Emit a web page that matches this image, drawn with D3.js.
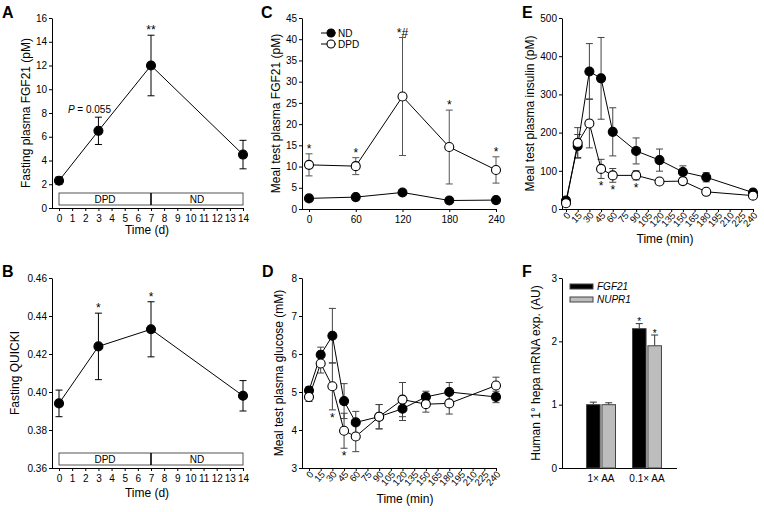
<!DOCTYPE html>
<html>
<head>
<meta charset="utf-8">
<script src="https://cdn.jsdelivr.net/npm/d3@7"></script>
<style>
body { margin: 0; background: #fff; }
svg { font-family: "Liberation Sans", Arial, sans-serif; }
.axis path, .axis line { stroke: #000; }
.axis text { font-size: 10px; fill: #000; font-family: "Liberation Sans", Arial, sans-serif; }
.ttl { font-size: 12px; fill: #000; }
.letter { font-size: 16px; font-weight: bold; fill: #000; }
.star { font-size: 12px; fill: #000; text-anchor: middle; }
</style>
</head>
<body>
<svg id="fig" width="764" height="512"></svg>
<script>
// A, B: fasting values over the diet study (days)
var studyDays = [0, 3, 7, 14];
var fgf21Fasting = [2.3, 6.5, 12.0, 4.5];
var fgf21FastingErr = [0.3, 1.15, 2.55, 1.2];
var fgf21FastingStars = ["", "", "**", ""];
var quicki = [0.394, 0.424, 0.433, 0.398];
var quickiErr = [0.007, 0.0175, 0.0145, 0.008];
var quickiStars = ["", "*", "*", ""];
var dietPhases = ["DPD", "ND"];
var phaseBounds = [0, 7, 14];

// C: meal test FGF21
var mealTimesC = [0, 60, 120, 180, 240];
var fgf21ND = [2.5, 2.8, 3.9, 2.0, 2.1];
var fgf21NDErr = [0.3, 0.3, 0.4, 0.3, 0.3];
var fgf21DPD = [10.4, 10.1, 26.5, 14.6, 9.2];
var fgf21DPDErr = [2.6, 2.0, 13.9, 8.7, 3.1];
var fgf21DPDStars = ["*", "*", "*#", "*", "*"];

// D, E: meal test glucose and insulin
var mealTimes = [0, 15, 30, 45, 60, 90, 120, 150, 180, 240];
var glucoseND = [5.04, 5.98, 6.48, 4.76, 4.2, 4.35, 4.56, 4.87, 5.0, 4.87];
var glucoseNDErr = [0.1, 0.2, 0.72, 0.46, 0.29, 0.32, 0.31, 0.15, 0.25, 0.15];
var glucoseDPD = [4.87, 5.75, 5.15, 3.98, 3.83, 4.35, 4.8, 4.68, 4.7, 5.17];
var glucoseDPDErr = [0.12, 0.25, 0.62, 0.46, 0.4, 0.32, 0.45, 0.21, 0.28, 0.22];
var glucoseStars = ["", "", "*", "*", "", "", "", "", "", ""];
var insulinND = [22, 165, 360, 342, 202, 152, 128, 97, 83, 43];
var insulinNDErr = [5, 30, 73, 107, 63, 34, 29, 16, 12, 5];
var insulinDPD = [15, 173, 224, 105, 88, 88, 72, 73, 45, 35];
var insulinDPDErr = [4, 40, 64, 25, 18, 12, 8, 6, 5, 5];
var insulinStars = ["", "", "", "*", "*", "*", "", "", "", ""];
var minuteTicks = d3.range(0, 241, 15);

// F: hepatocyte mRNA
var aaGroups = ["1\u00d7 AA", "0.1\u00d7 AA"];
var genes = ["FGF21", "NUPR1"];
var geneFGF21 = [1.0, 2.2];
var geneFGF21Err = [0.04, 0.08];
var geneNUPR1 = [1.0, 1.93];
var geneNUPR1Err = [0.03, 0.17];
var geneStars = ["", "*"];

var svg = d3.select("#fig");

// draws the axes + titles for a line panel, returns the scales
function makePanel(cfg) {
    var g = svg.append("g");
    var x = d3.scaleLinear().domain(cfg.xDomain).range([cfg.x0, cfg.x1]);
    var y = d3.scaleLinear().domain(cfg.yDomain).range([cfg.yb, cfg.yt]);

    g.append("g").attr("class", "axis")
        .attr("transform", "translate(" + cfg.ax + ",0)")
        .call(d3.axisLeft(y).tickValues(cfg.yTicks).tickSize(3).tickPadding(2).tickSizeOuter(0)
            .tickFormat(cfg.yFmt || d3.format("d")));

    var xa = g.append("g").attr("class", "axis")
        .attr("transform", "translate(0," + cfg.yb + ")")
        .call(d3.axisBottom(x).tickValues(cfg.xTicks).tickSize(3).tickPadding(4).tickSizeOuter(0).tickFormat(d3.format("d")));
    xa.select(".domain").attr("d", "M" + cfg.ax + ",0.5H" + (cfg.x1 + 0.5));

    if (cfg.rotate) {
        xa.selectAll(".tick text")
            .attr("text-anchor", "end")
            .attr("x", 0).attr("y", 0).attr("dy", "0.35em")
            .style("font-size", "9.5px")
            .attr("transform", "translate(2,4.5) rotate(-48)");
    }

    g.append("text").attr("class", "ttl")
        .attr("transform", "translate(" + cfg.ytx + "," + ((cfg.yb + cfg.yt) / 2) + ") rotate(-90)")
        .attr("text-anchor", "middle").attr("dy", "0.35em")
        .text(cfg.yTitle);
    if (cfg.xTitle) {
        g.append("text").attr("class", "ttl")
            .attr("x", cfg.xtx).attr("y", cfg.xty)
            .attr("text-anchor", "middle")
            .text(cfg.xTitle);
    }
    g.append("text").attr("class", "letter")
        .attr("x", cfg.lx).attr("y", cfg.ly).text(cfg.letter);
    return {g: g, x: x, y: y};
}

function toPoints(xs, ys, es) {
    return xs.map(function(d, i) { return {x: d, y: ys[i], e: es[i], i: i}; });
}

function errorBars(p, pts, color) {
    var eg = p.g.append("g").attr("stroke", color).attr("stroke-width", 1);
    var cap = 3.5;
    var sel = eg.selectAll(null).data(pts).enter().append("g");
    sel.append("line")
        .attr("x1", function(d) { return p.x(d.x); })
        .attr("x2", function(d) { return p.x(d.x); })
        .attr("y1", function(d) { return p.y(d.y - d.e); })
        .attr("y2", function(d) { return p.y(d.y + d.e); });
    [1, -1].forEach(function(s) {
        sel.append("line")
            .attr("x1", function(d) { return p.x(d.x) - cap; })
            .attr("x2", function(d) { return p.x(d.x) + cap; })
            .attr("y1", function(d) { return p.y(d.y + s * d.e); })
            .attr("y2", function(d) { return p.y(d.y + s * d.e); });
    });
}

function seriesLine(p, pts) {
    var line = d3.line()
        .x(function(d) { return p.x(d.x); })
        .y(function(d) { return p.y(d.y); });
    p.g.append("path").datum(pts)
        .attr("d", line)
        .attr("fill", "none")
        .attr("stroke", "#000")
        .attr("stroke-width", 1);
}

function dots(p, pts, filled, r) {
    p.g.append("g").selectAll("circle").data(pts).enter().append("circle")
        .attr("cx", function(d) { return p.x(d.x); })
        .attr("cy", function(d) { return p.y(d.y); })
        .attr("r", r)
        .attr("fill", filled ? "#000" : "#fff")
        .attr("stroke", "#000")
        .attr("stroke-width", 1.1);
}

// stars above the upper error (dir = -1) or below the lower error (dir = 1)
function stars(p, pts, labels, dir) {
    p.g.append("g").selectAll("text").data(pts.filter(function(d) { return labels[d.i]; }))
        .enter().append("text")
        .attr("class", "star")
        .attr("x", function(d) { return p.x(d.x); })
        .attr("y", function(d) {
            return dir < 0 ? p.y(d.y + d.e) - 1 : p.y(d.y - d.e) + 12;
        })
        .text(function(d) { return labels[d.i]; });
}

function dietBar(p) {
    var bg = p.g.append("g");
    var top = p.y.range()[0] - 15;
    bg.append("rect")
        .attr("x", p.x(phaseBounds[0]))
        .attr("y", top)
        .attr("width", p.x(phaseBounds[2]) - p.x(phaseBounds[0]))
        .attr("height", 12)
        .attr("fill", "#fff").attr("stroke", "#555").attr("stroke-width", 1);
    bg.append("line")
        .attr("x1", p.x(phaseBounds[1])).attr("x2", p.x(phaseBounds[1]))
        .attr("y1", top).attr("y2", top + 12)
        .attr("stroke", "#000").attr("stroke-width", 1.6);
    bg.selectAll("text").data(dietPhases).enter().append("text")
        .attr("x", function(d, i) { return p.x((phaseBounds[i] + phaseBounds[i + 1]) / 2); })
        .attr("y", top + 9.5)
        .attr("text-anchor", "middle")
        .style("font-size", "10px")
        .text(function(d) { return d; });
}

// ---------- A ----------
var pA = makePanel({
    letter: "A", lx: 2, ly: 18,
    ax: 52, x0: 59, x1: 243, yb: 208, yt: 18,
    xDomain: [0, 14], yDomain: [0, 16],
    xTicks: d3.range(0, 15), yTicks: d3.range(0, 17, 2),
    yTitle: "Fasting plasma FGF21 (pM)", ytx: 26,
    xTitle: "Time (d)", xtx: 147, xty: 234
});
dietBar(pA);
var ptsA = toPoints(studyDays, fgf21Fasting, fgf21FastingErr);
errorBars(pA, ptsA, "#000");
seriesLine(pA, ptsA);
dots(pA, ptsA, true, 4.5);
stars(pA, ptsA, fgf21FastingStars, -1);
var pAnn = pA.g.append("text")
    .attr("x", pA.x(studyDays[1]) - 9)
    .attr("y", pA.y(fgf21Fasting[1] + fgf21FastingErr[1]) - 4)
    .attr("text-anchor", "middle")
    .style("font-size", "10px");
pAnn.append("tspan").style("font-style", "italic").text("P");
pAnn.append("tspan").text(" = 0.055");

// ---------- B ----------
var pB = makePanel({
    letter: "B", lx: 2, ly: 277,
    ax: 52, x0: 59, x1: 243, yb: 468, yt: 278,
    xDomain: [0, 14], yDomain: [0.36, 0.46],
    xTicks: d3.range(0, 15), yTicks: [0.36, 0.38, 0.40, 0.42, 0.44, 0.46],
    yFmt: d3.format(".2f"),
    yTitle: "Fasting QUICKI", ytx: 15,
    xTitle: "Time (d)", xtx: 147, xty: 497
});
dietBar(pB);
var ptsB = toPoints(studyDays, quicki, quickiErr);
errorBars(pB, ptsB, "#000");
seriesLine(pB, ptsB);
dots(pB, ptsB, true, 4.5);
stars(pB, ptsB, quickiStars, -1);

// ---------- C ----------
var pC = makePanel({
    letter: "C", lx: 261, ly: 18,
    ax: 302, x0: 309, x1: 496, yb: 209, yt: 18,
    xDomain: [0, 240], yDomain: [0, 45],
    xTicks: mealTimesC, yTicks: d3.range(0, 46, 5),
    yTitle: "Meal test plasma FGF21 (pM)", ytx: 276
});
var ptsCnd = toPoints(mealTimesC, fgf21ND, fgf21NDErr);
var ptsCdpd = toPoints(mealTimesC, fgf21DPD, fgf21DPDErr);
errorBars(pC, ptsCdpd, "#555");
errorBars(pC, ptsCnd, "#555");
seriesLine(pC, ptsCnd);
seriesLine(pC, ptsCdpd);
dots(pC, ptsCnd, true, 4.5);
dots(pC, ptsCdpd, false, 4.5);
stars(pC, ptsCdpd, fgf21DPDStars, -1);

var legC = pC.g.append("g").selectAll("g").data(["ND", "DPD"]).enter().append("g")
    .attr("transform", function(d, i) { return "translate(" + (302 + 19) + "," + (33 + i * 11) + ")"; });
legC.append("line").attr("x1", 0).attr("x2", 15).attr("stroke", "#000");
legC.append("circle").attr("cx", 10).attr("r", 4)
    .attr("fill", function(d, i) { return i ? "#fff" : "#000"; })
    .attr("stroke", "#000").attr("stroke-width", 1.1);
legC.append("text").attr("x", 17).attr("dy", "0.35em")
    .style("font-size", "10px").text(function(d) { return d; });

// ---------- D ----------
var pD = makePanel({
    letter: "D", lx: 262, ly: 277,
    ax: 302, x0: 309, x1: 496, yb: 468, yt: 278,
    xDomain: [0, 240], yDomain: [3, 8],
    xTicks: minuteTicks, yTicks: d3.range(3, 9), rotate: true,
    yTitle: "Meal test plasma glucose (mM)", ytx: 279,
    xTitle: "Time (min)", xtx: 405, xty: 503
});
var ptsDnd = toPoints(mealTimes, glucoseND, glucoseNDErr);
var ptsDdpd = toPoints(mealTimes, glucoseDPD, glucoseDPDErr);
errorBars(pD, ptsDnd, "#444");
errorBars(pD, ptsDdpd, "#444");
seriesLine(pD, ptsDnd);
seriesLine(pD, ptsDdpd);
dots(pD, ptsDnd, true, 4.5);
dots(pD, ptsDdpd, false, 4.5);
stars(pD, ptsDdpd, glucoseStars, 1);

// ---------- E ----------
var pE = makePanel({
    letter: "E", lx: 522, ly: 18,
    ax: 562, x0: 566, x1: 753, yb: 209, yt: 18,
    xDomain: [0, 240], yDomain: [0, 500],
    xTicks: minuteTicks, yTicks: d3.range(0, 501, 100), rotate: true,
    yTitle: "Meal test plasma insulin (pM)", ytx: 530,
    xTitle: "Time (min)", xtx: 665, xty: 243
});
var ptsEnd = toPoints(mealTimes, insulinND, insulinNDErr);
var ptsEdpd = toPoints(mealTimes, insulinDPD, insulinDPDErr);
errorBars(pE, ptsEnd, "#444");
errorBars(pE, ptsEdpd, "#444");
seriesLine(pE, ptsEnd);
seriesLine(pE, ptsEdpd);
dots(pE, ptsEnd, true, 4.5);
dots(pE, ptsEdpd, false, 4.5);
stars(pE, ptsEdpd, insulinStars, 1);

// ---------- F ----------
(function() {
    var g = svg.append("g");
    var ax = 562, x1 = 677, yb = 468, yt = 278;
    var y = d3.scaleLinear().domain([0, 3]).range([yb, yt]);
    var x0 = d3.scaleBand().domain(aaGroups).range([570, 678]).paddingInner(0.37).paddingOuter(0.36);
    var x1s = d3.scaleBand().domain(genes).range([0, x0.bandwidth()]).paddingInner(0.12);
    var vals = {FGF21: geneFGF21, NUPR1: geneNUPR1};
    var errs = {FGF21: geneFGF21Err, NUPR1: geneNUPR1Err};
    var fills = {FGF21: "#000", NUPR1: "#bdbdbd"};

    g.append("g").attr("class", "axis").attr("transform", "translate(" + ax + ",0)")
        .call(d3.axisLeft(y).tickValues([0, 1, 2, 3]).tickSize(3).tickPadding(2).tickSizeOuter(0).tickFormat(d3.format("d")));
    var xa = g.append("g").attr("class", "axis").attr("transform", "translate(0," + yb + ")")
        .call(d3.axisBottom(x0).tickSize(0).tickPadding(7));
    xa.select(".domain").attr("d", "M" + ax + ",0.5H" + x1);

    var bars = [];
    aaGroups.forEach(function(grp, gi) {
        genes.forEach(function(gene) {
            bars.push({grp: grp, gene: gene, v: vals[gene][gi], e: errs[gene][gi], star: geneStars[gi]});
        });
    });
    var bx = function(d) { return x0(d.grp) + x1s(d.gene); };
    var bw = x1s.bandwidth();

    var eb = g.append("g").attr("stroke", "#333");
    eb.selectAll(".v").data(bars).enter().append("line")
        .attr("x1", function(d) { return bx(d) + bw / 2; })
        .attr("x2", function(d) { return bx(d) + bw / 2; })
        .attr("y1", function(d) { return y(d.v); })
        .attr("y2", function(d) { return y(d.v + d.e); });
    eb.selectAll(".c").data(bars).enter().append("line")
        .attr("x1", function(d) { return bx(d) + bw / 2 - 3.5; })
        .attr("x2", function(d) { return bx(d) + bw / 2 + 3.5; })
        .attr("y1", function(d) { return y(d.v + d.e); })
        .attr("y2", function(d) { return y(d.v + d.e); });

    g.append("g").selectAll("rect").data(bars).enter().append("rect")
        .attr("x", bx)
        .attr("y", function(d) { return y(d.v); })
        .attr("width", bw)
        .attr("height", function(d) { return yb - y(d.v); })
        .attr("fill", function(d) { return fills[d.gene]; })
        .attr("stroke", "#444").attr("stroke-width", 1);

    g.append("g").selectAll("text").data(bars.filter(function(d) { return d.star; }))
        .enter().append("text")
        .attr("class", "star")
        .style("font-size", "10px")
        .attr("x", function(d) { return bx(d) + bw / 2; })
        .attr("y", function(d) { return y(d.v + d.e) + 1.5; })
        .text(function(d) { return d.star; });

    var leg = g.append("g").selectAll("g").data(genes).enter().append("g")
        .attr("transform", function(d, i) { return "translate(" + (ax + 8) + "," + (yt + 6 + i * 13) + ")"; });
    leg.append("rect").attr("width", 23).attr("height", 5)
        .attr("fill", function(d) { return fills[d]; })
        .attr("stroke", "#444");
    leg.append("text").attr("x", 27).attr("y", 2.5).attr("dy", "0.35em")
        .style("font-size", "10px").style("font-style", "italic")
        .text(function(d) { return d; });

    g.append("text").attr("class", "ttl")
        .attr("transform", "translate(536," + ((yb + yt) / 2) + ") rotate(-90)")
        .attr("text-anchor", "middle").attr("dy", "0.35em")
        .text("Human 1\u00b0 hepa mRNA exp. (AU)");
    g.append("text").attr("class", "letter").attr("x", 522).attr("y", 277).text("F");
})();
</script>
</body>
</html>
